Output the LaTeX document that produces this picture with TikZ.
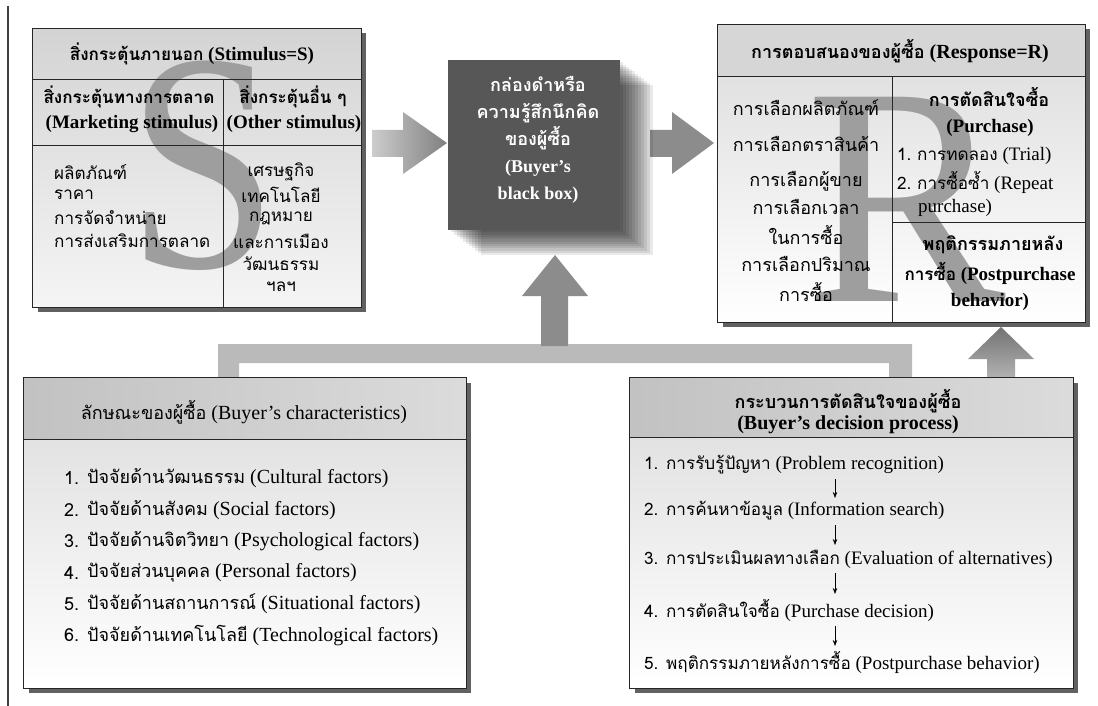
\documentclass[tikz,border=0pt]{standalone}
\usepackage{fontspec}
\setmainfont{Liberation Serif}
\newfontfamily\thai[Script=Thai,Scale=0.9]{Loma}
\newcommand\T[1]{{\thai #1}}
\usetikzlibrary{arrows.meta,shadows}
\begin{document}
\begin{tikzpicture}[x=1pt,y=-1pt,
  every node/.style={inner sep=0pt, font=\fontsize{20}{22}\selectfont},
  sz19/.style={font=\fontsize{19}{22}\selectfont},
  bold/.style={font=\fontsize{19}{22}\selectfont\bfseries},
  bold20/.style={font=\fontsize{20}{22}\selectfont\bfseries},
  frame/.style={draw=black!85, line width=0.9pt},
  boxshadow/.style={drop shadow={shadow xshift=4.5pt, shadow yshift=-4.5pt, fill=black!62, opacity=1}},
  bigletter/.style={text=black!38, font=\fontsize{312}{312}\selectfont},
  fatarrow/.style={fill=black!45},
  bandstyle/.style={fill=black!27},
  item/.style={anchor=west},
  flow/.style={-{Stealth[length=6pt,width=4.5pt]}, line width=0.6pt},
  bbtext/.style={text=white, align=center, font=\fontsize{20}{27}\selectfont\bfseries},
]
\useasboundingbox (0,0) rectangle (1098,706);
\fill[white] (0,0) rectangle (1098,706);
\draw[black!75, line width=1.1pt] (8,6) -- (8,706);

% ---------- connectors (fat arrows and band) ----------
\fill[bandstyle] (218,378) -- (218,344) -- (912,344) -- (912,378) -- (889,378) -- (889,363) -- (239,363) -- (239,378) -- cycle;
\fill[fatarrow] (541,346) -- (541,296) -- (522,296) -- (555,255) -- (588,296) -- (568,296) -- (568,346) -- cycle;
\shade[top color=black!55, bottom color=black!30] (987,378) -- (987,359) -- (968,359) -- (1001,327) -- (1034,359) -- (1015,359) -- (1015,378) -- cycle;
\shade[left color=black!20, right color=black!50] (372,130) -- (403,130) -- (403,112) -- (447,143) -- (403,174) -- (403,157) -- (372,157) -- cycle;
\fill[fatarrow] (650,130) -- (672,130) -- (672,112) -- (714,143) -- (672,174) -- (672,157) -- (650,157) -- cycle;

% ---------- black box ----------
\foreach \k in {1,...,11}
  \fill[black, opacity=0.085] (448+3*\k,60+2.3*\k) rectangle (620+3*\k,230+2.3*\k);
\node[fill=black!66, minimum width=172pt, minimum height=170pt] (bb) at (534,145) {};
\node[bbtext] (bbt) at (538,140) {\T{กล่องดำหรือ}\\\T{ความรู้สึกนึกคิด}\\\T{ของผู้ซื้อ}\\{\fontsize{18}{27}\selectfont(Buyer's}\\{\fontsize{18}{27}\selectfont black box)}};

% ---------- Stimulus box ----------
\node[boxshadow, top color=black!17, bottom color=black!4, minimum width=328pt, minimum height=278pt] (tl) at (197,168) {};
\node[bigletter] (bigS) at (203,166) {\scalebox{0.87}[1]{S}};
\draw[frame] (tl.north west) rectangle (tl.south east);
\draw[frame] (33,79) -- (361,79);
\draw[frame] (33,145) -- (361,145);
\draw[frame] (223,79) -- (223,307);
\node[bold] (tlh) at (192,54) {\T{สิ่งกระตุ้นภายนอก} (Stimulus=S)};
\node[bold] (tla1) at (129,97) {\T{สิ่งกระตุ้นทางการตลาด}};
\node[bold] (tla2) at (132,124) {(Marketing stimulus)};
\node[bold] (tlb1) at (293,97) {\T{สิ่งกระตุ้นอื่น ๆ}};
\node[bold] (tlb2) at (294,124) {(Other stimulus)};
\foreach \t [count=\i] in {ผลิตภัณฑ์,ราคา,การจัดจำหน่าย,การส่งเสริมการตลาด}
  \node[item, sz19] (tll\i) at (54,149+23*\i) {\T{\t}};
\foreach \t [count=\i] in {เศรษฐกิจ,เทคโนโลยี,กฎหมาย,และการเมือง,วัฒนธรรม,ฯลฯ}
  \node[sz19] (tlr\i) at (281,149+23*\i) {\T{\t}};

% ---------- Response box ----------
\node[boxshadow, top color=black!14, bottom color=white, minimum width=367pt, minimum height=297pt] (rb) at (901.5,173.5) {};
\fill[black!16] (718,25) rectangle (1085,76);
\node[bigletter] (bigR) at (906,199) {\scalebox{0.96}[1]{R}};
\draw[frame] (rb.north west) rectangle (rb.south east);
\draw[frame] (718,76) -- (1085,76);
\draw[frame] (892,76) -- (892,322);
\draw[frame] (892,222) -- (1085,222);
\node[bold20] (rh) at (900,51) {\T{การตอบสนองของผู้ซื้อ} (Response=R)};
\node (rl1) at (806,108) {\T{การเลือกผลิตภัณฑ์}};
\node (rl2) at (806,144) {\T{การเลือกตราสินค้า}};
\node (rl3) at (806,181) {\T{การเลือกผู้ขาย}};
\node (rl4) at (806,207) {\T{การเลือกเวลา}};
\node (rl5) at (806,235) {\T{ในการซื้อ}};
\node (rl6) at (806,264) {\T{การเลือกปริมาณ}};
\node (rl7) at (806,292) {\T{การซื้อ}};
\node[bold20] (rr1) at (989,97) {\T{การตัดสินใจซื้อ}};
\node[bold] (rr2) at (990,128) {(Purchase)};
\node[item, sz19] (rr3) at (897,156) {\T{1.\ การทดลอง} (Trial)};
\node[item, sz19] (rr4) at (897,182) {\T{2.\ การซื้อซ้ำ} (Repeat};
\node[item, sz19] (rr5) at (918,208) {purchase)};
\node[bold20] (rr6) at (993,245) {\T{พฤติกรรมภายหลัง}};
\node[bold] (rr7) at (990,273) {\T{การซื้อ} (Postpurchase};
\node[bold] (rr8) at (990,302) {behavior)};

% ---------- Buyer's characteristics ----------
\node[boxshadow, top color=black!14, bottom color=white, minimum width=442pt, minimum height=310pt] (bl) at (245,533) {};
\shade[left color=black!24, right color=black!14] (24,378) rectangle (466,439);
\draw[frame] (bl.north west) rectangle (bl.south east);
\draw[frame] (24,439) -- (466,439);
\node (blh) at (244,412) {\T{ลักษณะของผู้ซื้อ} (Buyer's characteristics)};
\foreach \t/\e [count=\i] in {ปัจจัยด้านวัฒนธรรม/Cultural factors,ปัจจัยด้านสังคม/Social factors,ปัจจัยด้านจิตวิทยา/Psychological factors,ปัจจัยส่วนบุคคล/Personal factors,ปัจจัยด้านสถานการณ์/Situational factors,ปัจจัยด้านเทคโนโลยี/Technological factors}{
  \node[item] (bln\i) at (64,447+31.4*\i) {\T{\i.}};
  \node[item] (bli\i) at (87,447+31.4*\i) {\T{\t} (\e)};
}

% ---------- Buyer's decision process ----------
\node[boxshadow, top color=black!14, bottom color=white, minimum width=443pt, minimum height=310pt] (br) at (851.5,533) {};
\shade[left color=black!24, right color=black!14] (630,378) rectangle (1073,437);
\draw[frame] (br.north west) rectangle (br.south east);
\draw[frame] (630,437) -- (1073,437);
\node[bold20] (brh1) at (848,401) {\T{กระบวนการตัดสินใจของผู้ซื้อ}};
\node[bold20] (brh2) at (848,425) {(Buyer's decision process)};
\node[item, sz19] (bri1) at (644,465) {\T{1. การรับรู้ปัญหา} (Problem recognition)};
\node[item, sz19] (bri2) at (644,511) {\T{2. การค้นหาข้อมูล} (Information search)};
\node[item, sz19] (bri3) at (644,559) {\T{3. การประเมินผลทางเลือก} (Evaluation of alternatives)};
\node[item, sz19] (bri4) at (644,610) {\T{4. การตัดสินใจซื้อ} (Purchase decision)};
\node[item, sz19] (bri5) at (644,662) {\T{5. พฤติกรรมภายหลังการซื้อ} (Postpurchase behavior)};
\draw[flow] (835,479) -- (835,498);
\draw[flow] (835,525) -- (835,545);
\draw[flow] (835,573) -- (835,594);
\draw[flow] (835,626) -- (835,646);
\end{tikzpicture}
\end{document}
